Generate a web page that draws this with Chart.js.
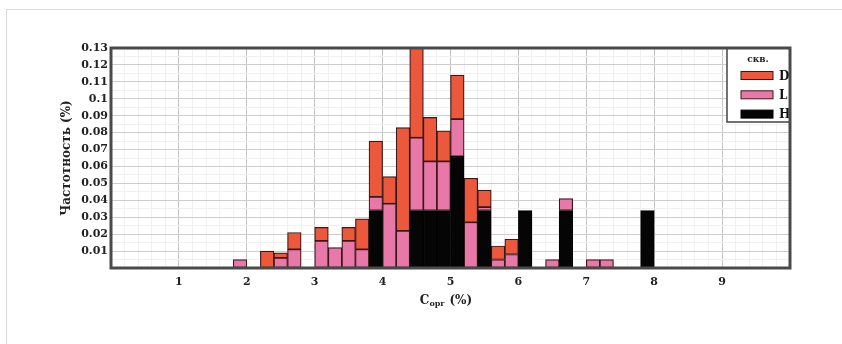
<!DOCTYPE html>
<html><head><meta charset="utf-8">
<script src="https://cdn.jsdelivr.net/npm/chart.js@4.4.1/dist/chart.umd.min.js"></script>
<style>
html,body{margin:0;padding:0;background:#fff;width:842px;height:344px;overflow:hidden;}
#frame{position:absolute;left:6px;top:9px;width:880px;height:400px;border-left:1px solid #dadada;border-top:1px solid #dadada;}
canvas{position:absolute;left:0;top:0;}
</style></head><body>
<div id="frame"></div>
<canvas id="c" width="842" height="344"></canvas>
<script>
// bin centres (bins 0.2 wide)
const binCenters = [1.9, 2.3, 2.5, 2.7, 3.1, 3.3, 3.5, 3.7, 3.9, 4.1, 4.3, 4.5, 4.7, 4.9, 5.1, 5.3, 5.5, 5.7, 5.9, 6.1, 6.5, 6.7, 7.1, 7.3, 7.9];
// series segment heights (stacked: H bottom, L middle, D top)
const seriesH = [0, 0, 0, 0, 0, 0, 0, 0, 0.034, 0, 0, 0.034, 0.034, 0.034, 0.066, 0, 0.034, 0, 0, 0.034, 0, 0.034, 0, 0, 0.034];
const seriesL = [0.005, 0, 0.006, 0.011, 0.016, 0.012, 0.016, 0.011, 0.008, 0.038, 0.022, 0.043, 0.029, 0.029, 0.022, 0.027, 0.002, 0.005, 0.008, 0, 0.005, 0.007, 0.005, 0.005, 0];
const seriesD = [0, 0.010, 0.003, 0.010, 0.008, 0, 0.008, 0.018, 0.033, 0.016, 0.061, 0.053, 0.026, 0.018, 0.026, 0.026, 0.010, 0.008, 0.009, 0, 0, 0, 0, 0, 0];
const seriesNames = { H: 'H', L: 'L', D: 'D' };
const legendTitle = 'скв.';
const xTickLabels = ['1', '2', '3', '4', '5', '6', '7', '8', '9'];
const yTickLabels = ['0.01', '0.02', '0.03', '0.04', '0.05', '0.06', '0.07', '0.08', '0.09', '0.1', '0.11', '0.12', '0.13'];
const yTitle = 'Частотность (%)';
const xTitleMain = 'C', xTitleSub = 'орг', xTitleRest = ' (%)';

const FONT = "'DejaVu Serif', 'Liberation Serif', serif";
const toPts = arr => binCenters.map((x, i) => ({ x: x, y: arr[i] ? arr[i] : null }));

const decor = {
  id: 'decor',
  afterDatasetsDraw(chart) {
    const { ctx, chartArea: a } = chart;
    ctx.save();
    // legend inside plot, top-right
    const lw = 63, lh = 74, lx = a.right - lw, ly = a.top;
    ctx.save();
    ctx.beginPath(); ctx.rect(a.left, a.top, a.right - a.left, a.bottom - a.top); ctx.clip();
    ctx.fillStyle = '#fff';
    ctx.fillRect(lx, ly, lw, lh);
    ctx.strokeStyle = '#444'; ctx.lineWidth = 1.5;
    ctx.beginPath(); ctx.moveTo(lx, ly); ctx.lineTo(lx, ly + lh); ctx.lineTo(a.right, ly + lh); ctx.stroke();
    ctx.fillStyle = '#222'; ctx.font = 'bold 9px ' + FONT;
    ctx.textAlign = 'center'; ctx.textBaseline = 'middle';
    ctx.fillText(legendTitle, lx + 31, ly + 12);
    [2, 1, 0].forEach((di, i) => {
      const ds = chart.data.datasets[di];
      const y = ly + 27.5 + i * 19.3;
      ctx.fillStyle = ds.backgroundColor; ctx.fillRect(lx + 14, y - 4, 32, 8);
      ctx.strokeStyle = ds.borderColor; ctx.lineWidth = 1; ctx.strokeRect(lx + 14, y - 4, 32, 8);
      ctx.fillStyle = '#111'; ctx.font = 'bold 12px ' + FONT; ctx.textAlign = 'left';
      ctx.fillText(ds.label, lx + 52, y + 1);
    });
    ctx.restore();
    // plot frame
    ctx.strokeStyle = '#4a4a4a'; ctx.lineWidth = 3;
    ctx.strokeRect(a.left, a.top, a.right - a.left, a.bottom - a.top);
    // x axis title with subscript
    ctx.fillStyle = '#222'; ctx.textBaseline = 'middle'; ctx.textAlign = 'left';
    const fMain = 'bold 12px ' + FONT, fSub = 'bold 8px ' + FONT;
    ctx.font = fMain; const w1 = ctx.measureText(xTitleMain).width, w3 = ctx.measureText(xTitleRest).width;
    ctx.font = fSub; const w2 = ctx.measureText(xTitleSub).width;
    let x0 = 446 - (w1 + w2 + w3) / 2; const ty = 301;
    ctx.font = fMain; ctx.fillText(xTitleMain, x0, ty);
    ctx.font = fSub; ctx.fillText(xTitleSub, x0 + w1, ty + 3);
    ctx.font = fMain; ctx.fillText(xTitleRest, x0 + w1 + w2, ty);
    ctx.restore();
  }
};

const border = '#3a1818';
new Chart(document.getElementById('c'), {
  type: 'bar',
  data: {
    datasets: [
      { label: seriesNames.H, data: toPts(seriesH), backgroundColor: '#050505', borderColor: '#000', borderWidth: 1.2, borderSkipped: false },
      { label: seriesNames.L, data: toPts(seriesL), backgroundColor: '#e878a8', borderColor: border, borderWidth: 1.2, borderSkipped: false },
      { label: seriesNames.D, data: toPts(seriesD), backgroundColor: '#ec583c', borderColor: border, borderWidth: 1.2, borderSkipped: false }
    ]
  },
  options: {
    responsive: false,
    animation: false,
    barPercentage: 1,
    categoryPercentage: 1,
    layout: { padding: { left: 0, right: 52, top: 48, bottom: 36 } },
    plugins: { legend: { display: false }, tooltip: { enabled: false } },
    scales: {
      x: {
        type: 'linear', stacked: true, min: 0, max: 10, offset: false,
        afterFit: s => { s.height = 40; },
        afterBuildTicks: s => { const t = []; for (let k = 0; k <= 50; k++) t.push({ value: k * 0.2 }); s.ticks = t; },
        grid: {
          offset: false, drawTicks: false,
          color: c => { const v = c.tick ? c.tick.value : 0; return Math.abs(v - Math.round(v)) < 1e-6 ? '#c4c4c4' : '#f0f0f0'; },
          lineWidth: 1
        },
        border: { display: false },
        ticks: {
          autoSkip: false, maxRotation: 0, padding: 8, color: '#222',
          font: { family: FONT, size: 11, weight: 'bold' },
          callback: v => { const k = Math.round(v); return (Math.abs(v - k) < 1e-6 && k >= 1 && k <= 9) ? xTickLabels[k - 1] : ''; }
        }
      },
      y: {
        stacked: true, min: 0, max: 0.13,
        afterFit: s => { s.width = 111; },
        afterBuildTicks: s => { const t = []; for (let k = 0; k <= 26; k++) t.push({ value: k * 0.005 }); s.ticks = t; },
        grid: {
          drawTicks: false,
          color: c => { const v = c.tick ? c.tick.value : 0; const k = Math.round(v / 0.01); return Math.abs(v - k * 0.01) < 1e-7 ? '#cdcdcd' : '#f0f0f0'; },
          lineWidth: 1
        },
        border: { display: false },
        ticks: {
          autoSkip: false, padding: 3, color: '#222',
          font: { family: FONT, size: 11, weight: 'bold' },
          callback: v => { const k = Math.round(v / 0.01); return (Math.abs(v - k * 0.01) < 1e-7 && k >= 1 && k <= 13) ? yTickLabels[k - 1] : ''; }
        },
        title: {
          display: true, text: yTitle, color: '#222',
          font: { family: FONT, size: 12, weight: 'bold' },
          padding: { top: 60, bottom: 0 }
        }
      }
    }
  },
  plugins: [decor]
});
</script>
</body></html>
